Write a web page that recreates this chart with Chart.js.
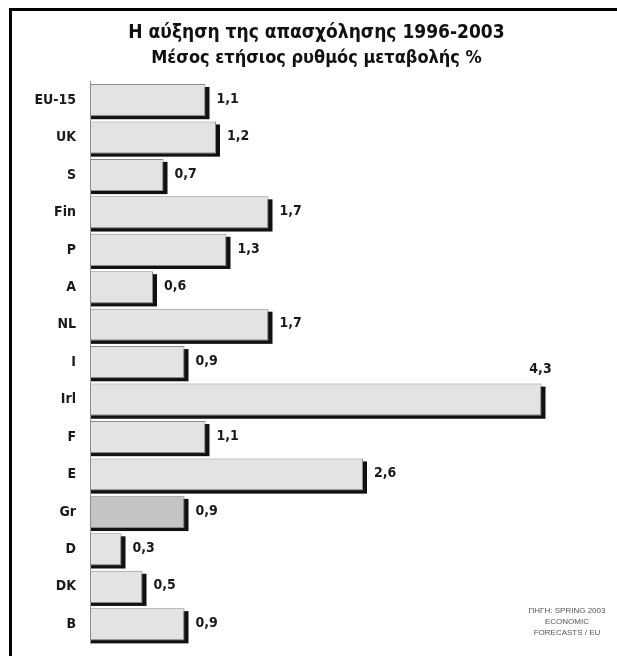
<!DOCTYPE html>
<html>
<head>
<meta charset="utf-8">
<script src="https://cdn.jsdelivr.net/npm/chart.js@4.4.0/dist/chart.umd.min.js"></script>
<style>
  html, body { margin: 0; padding: 0; background: #fff; }
  #wrap { position: relative; width: 617px; height: 656px; }
</style>
</head>
<body>
<div id="wrap"><canvas id="myChart" width="617" height="656"></canvas></div>
<script>
const countries = ['EU-15', 'UK', 'S', 'Fin', 'P', 'A', 'NL', 'I', 'Irl', 'F', 'E', 'Gr', 'D', 'DK', 'B'];
const growth = [1.1, 1.2, 0.7, 1.7, 1.3, 0.6, 1.7, 0.9, 4.3, 1.1, 2.6, 0.9, 0.3, 0.5, 0.9];
const highlight = 'Gr';
const sourceLines = ['ΠΗΓΗ: SPRING 2003', 'ECONOMIC', 'FORECASTS / EU'];

const FONT = '"DejaVu Sans Condensed", sans-serif';

// black drop shadow on the right and bottom of each bar
const barShadow = {
  id: 'barShadow',
  beforeDatasetsDraw(chart) {
    const { ctx } = chart;
    ctx.save();
    ctx.fillStyle = '#111';
    chart.getDatasetMeta(0).data.forEach((bar) => {
      const h = bar.height;
      ctx.fillRect(bar.base + 1, bar.y - h / 2 + 3, bar.x - bar.base + 3, h);
    });
    ctx.restore();
  },
};

const valueLabels = {
  id: 'valueLabels',
  afterDatasetsDraw(chart) {
    const { ctx, chartArea } = chart;
    ctx.save();
    ctx.font = 'bold 14px ' + FONT;
    ctx.fillStyle = '#1a1a1a';
    ctx.textBaseline = 'middle';
    chart.getDatasetMeta(0).data.forEach((bar, i) => {
      const text = growth[i].toFixed(1).replace('.', ',');
      if (bar.x + 90 > chartArea.right) {
        // no room on the right: put it above the bar end
        ctx.textAlign = 'center';
        ctx.fillText(text, bar.x - 1, bar.y - bar.height / 2 - 14);
      } else {
        ctx.textAlign = 'left';
        ctx.fillText(text, bar.x + 11, bar.y - 1);
      }
    });
    ctx.restore();
  },
};

const frameAndSource = {
  id: 'frameAndSource',
  beforeDraw(chart) {
    const { ctx } = chart;
    ctx.save();
    ctx.fillStyle = '#fff';
    ctx.fillRect(0, 0, chart.width, chart.height);
    ctx.restore();
  },
  afterDraw(chart) {
    const { ctx } = chart;
    ctx.save();
    ctx.fillStyle = '#000';
    ctx.fillRect(9, 8, 3, chart.height);
    ctx.fillRect(9, 8, chart.width, 3);
    // source note
    ctx.font = '8px "Liberation Sans", sans-serif';
    ctx.fillStyle = '#555';
    ctx.textAlign = 'center';
    ctx.textBaseline = 'middle';
    sourceLines.forEach((line, i) => {
      ctx.fillText(line, 567, 611 + i * 11);
    });
    ctx.restore();
  },
};

const ctx = document.getElementById('myChart').getContext('2d');
new Chart(ctx, {
  type: 'bar',
  data: {
    labels: countries,
    datasets: [
      {
        data: growth,
        backgroundColor: countries.map((c) => (c === highlight ? '#c4c4c4' : '#e3e3e3')),
        borderColor: '#8a8a8a',
        borderWidth: 1,
        borderSkipped: false,
        categoryPercentage: 1,
        barPercentage: 0.86,
      },
    ],
  },
  options: {
    indexAxis: 'y',
    responsive: false,
    animation: false,
    layout: { padding: { left: 18, right: 2, top: 0, bottom: 13 } },
    scales: {
      x: {
        display: false,
        min: 0,
        max: 5,
      },
      y: {
        afterFit: (axis) => {
          axis.width = 72;
          // tick padding should not push the plot area up from the bottom
          axis.paddingTop = 0;
          axis.paddingBottom = 0;
        },
        grid: { display: false, drawTicks: false },
        border: { display: true, color: '#9a9a9a', width: 1 },
        ticks: {
          padding: 14,
          color: '#1a1a1a',
          font: { family: FONT, size: 14, weight: 'bold' },
        },
      },
    },
    plugins: {
      legend: { display: false },
      tooltip: { enabled: false },
      title: {
        display: true,
        text: 'Η αύξηση της απασχόλησης 1996-2003',
        color: '#111',
        font: { family: FONT, size: 19, weight: 'bold' },
        padding: { top: 22, bottom: 3 },
      },
      subtitle: {
        display: true,
        text: 'Μέσος ετήσιος ρυθμός μεταβολής %',
        color: '#111',
        font: { family: FONT, size: 18, weight: 'bold' },
        padding: { top: 0, bottom: 12 },
      },
    },
  },
  plugins: [frameAndSource, barShadow, valueLabels],
});
</script>
</body>
</html>
